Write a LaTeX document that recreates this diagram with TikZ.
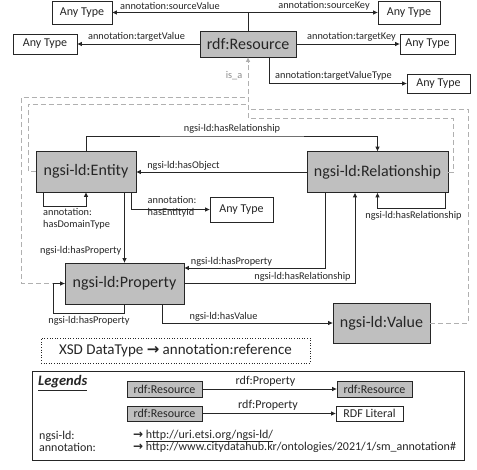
\documentclass[tikz,border=0pt]{standalone}
\usepackage{fontspec}
\setmainfont{Carlito}
\newfontfamily\arrowfont{DejaVu Sans}
\usetikzlibrary{arrows.meta}
\definecolor{ink}{HTML}{262626}
\definecolor{boxgray}{HTML}{BFBFBF}
\definecolor{dashgray}{HTML}{B0B0B0}
\tikzset{
  gbox/.style={draw=ink, line width=0.8pt, fill=boxgray, inner sep=0pt, text=ink},
  wbox/.style={draw=ink, line width=0.8pt, fill=white, inner sep=0pt, text=ink},
  big/.style={font=\fontsize{16}{18}\selectfont},
  mid/.style={font=\fontsize{12}{14}\selectfont},
  lbl/.style={inner sep=0pt, text=ink, font=\fontsize{10.3}{12.5}\selectfont},
  arr/.style={draw=ink, line width=0.9pt, -{Triangle[length=4.5pt,width=4pt]}},
  isa/.style={draw=dashgray, line width=0.9pt, dash pattern=on 5pt off 3pt},
}
\begin{document}
\begin{tikzpicture}[x=1pt,y=-1pt]
\useasboundingbox (0,0) rectangle (477,469);
\fill[white] (0,0) rectangle (477,469);

% ---------- main nodes ----------
\node[gbox, big, minimum width=141pt, minimum height=41pt] (rel) at (377.5,172) {ngsi-ld:Relationship};
\node[gbox, big, minimum width=100pt, minimum height=41pt] (ent) at (86,171.5) {ngsi-ld:Entity};
\node[gbox, big, minimum width=119pt, minimum height=41pt] (prop) at (124.5,283.5) {ngsi-ld:Property};
\node[gbox, big, minimum width=97pt, minimum height=40pt] (val) at (381.5,323) {ngsi-ld:Value};
\node[gbox, big, minimum width=96pt, minimum height=26pt] (res) at (248,44) {rdf:Resource};

% ---------- is_a dashed routes ----------
\coordinate (pL) at (21,283.5);
\coordinate (pT) at (21,97.7);
\coordinate (pM) at (248,97.7);
\coordinate (eL) at (28,171.5);
\coordinate (eT) at (28,104);
\coordinate (eM) at (248,104);
\coordinate (vR) at (468,323);
\coordinate (vT) at (468,109);
\coordinate (vM) at (248,109);
\coordinate (rR) at (453,172);
\coordinate (rT) at (453,118);
\coordinate (rM) at (248,118);
\draw[isa] (prop.west) -- (pL) -- (pT) -- (pM);
\draw[isa] (ent.west) -- (eL) -- (eT) -- (eM);
\draw[isa] (val.east) -- (vR) -- (vT) -- (vM);
\draw[isa] (rel.east) -- (rR) -- (rT) -- (rM);
\draw[isa, -{Triangle[length=4.5pt,width=4pt]}] (rM) -- (res.south);
\node[lbl, text=dashgray!80!black] (isalbl) at (234,76) {is\_a};

% ---------- Any Type boxes ----------
\node[wbox, mid, minimum width=60pt, minimum height=23pt] (at1) at (82,12.5) {Any Type};
\node[wbox, mid, minimum width=62pt, minimum height=23pt] (at2) at (409,12.5) {Any Type};
\node[wbox, mid, minimum width=64pt, minimum height=20pt] (at3) at (45,44) {Any Type};
\node[wbox, mid, minimum width=55pt, minimum height=20pt] (at4) at (427.5,44) {Any Type};
\node[wbox, mid, minimum width=63pt, minimum height=19pt] (at5) at (438.5,83.5) {Any Type};
\node[wbox, mid, minimum width=63pt, minimum height=25pt] (anyE) at (241.5,209.5) {Any Type};

% ---------- rdf:Resource connectors ----------
\draw[arr] (res.north) |- (at1.east);
\draw[arr] (res.north) |- (at2.west);
\draw[arr] (res.west) -- (at3.east);
\draw[arr] (res.east) -- (at4.west);
\draw[arr] ([xshift=21pt]res.south) |- (at5.west);
\node[lbl] at (170,6) {annotation:sourceValue};
\node[lbl] at (324,6) {annotation:sourceKey};
\node[lbl] at (136.5,37) {annotation:targetValue};
\node[lbl] at (351.5,37) {annotation:targetKey};
\node[lbl] at (333.5,76) {annotation:targetValueType};

% ---------- Entity / Relationship ----------
\coordinate (topmid) at (232,136);
\draw[arr] (ent.north) |- (topmid) -| (rel.north);
\node[lbl] at (232,129) {ngsi-ld:hasRelationship};

\draw[arr] (rel.west) -- (rel.west -| ent.east);
\node[lbl] at (183.5,166) {ngsi-ld:hasObject};

\draw[arr] ([xshift=-43pt]ent.south) -- ++(0,14.5) -| (ent.south);
\node[lbl, align=left, anchor=north west] at (43,208) {annotation:\\hasDomainType};

\draw[arr] ([xshift=45pt]ent.south) |- (anyE.west);
\node[lbl, align=left, anchor=north west] at (147.5,196) {annotation:\\hasEntityId};

\draw[arr] (prop.north |- ent.south) -- (prop.north);
\node[lbl, anchor=east] at (121.5,251) {ngsi-ld:hasProperty};

\draw[arr] ([xshift=67.5pt]rel.south) -- ++(0,15.5) -| (rel.south);
\node[lbl] at (413.5,216) {ngsi-ld:hasRelationship};

\draw[arr] ([xshift=-52.5pt]rel.south) |- ([yshift=15.5pt]prop.east);
\node[lbl] at (231.5,262) {ngsi-ld:hasProperty};

\draw[arr] (prop.east) -| ([xshift=-22.5pt]rel.south);
\node[lbl] at (302.5,277) {ngsi-ld:hasRelationship};

\coordinate (ploop) at (53,313);
\draw[arr] (prop.south) |- (ploop) |- (prop.west);
\node[lbl] at (89,321) {ngsi-ld:hasProperty};

\draw[arr] ([xshift=37.5pt]prop.south) |- (val.west);
\node[lbl] at (223.5,317) {ngsi-ld:hasValue};

% ---------- XSD note ----------
\node[draw=ink, line width=0.6pt, dotted, inner sep=0pt, minimum width=269pt, minimum height=25pt,
      text=ink, font=\fontsize{15}{17}\selectfont] (xsd) at (175.5,350.5)
      {XSD DataType {\arrowfont\bfseries →} annotation:reference};

% ---------- Legend ----------
\node[draw=ink, line width=0.9pt, inner sep=0pt, minimum width=432pt, minimum height=89pt] (leg) at (248,415.5) {};
\node[inner sep=0pt, text=ink, font=\fontsize{14.5}{16}\selectfont\bfseries\itshape, anchor=west] (legt) at (38,383) {\underline{Legends}};
\node[gbox, mid, minimum width=75pt, minimum height=16pt] (lr1) at (164.5,389) {rdf:Resource};
\node[gbox, mid, minimum width=75pt, minimum height=16pt] (lr2) at (374.5,389) {rdf:Resource};
\node[gbox, mid, minimum width=75pt, minimum height=15pt] (lr3) at (164.5,413.5) {rdf:Resource};
\node[wbox, mid, minimum width=67pt, minimum height=15pt] (lit) at (369.5,413.5) {RDF Literal};
\draw[arr] (lr1.east) -- (lr2.west);
\draw[arr] (lr3.east) -- (lit.west);
\node[inner sep=0pt, text=ink, mid] at (265.5,381) {rdf:Property};
\node[inner sep=0pt, text=ink, mid] at (268,405.5) {rdf:Property};
\node[inner sep=0pt, text=ink, mid, anchor=west] at (39,436) {ngsi-ld:};
\node[inner sep=0pt, text=ink, mid, anchor=west] at (39,447.5) {annotation:};
\node[inner sep=0pt, text=ink, mid, anchor=west] at (133,436) {{\arrowfont\bfseries →} \underline{http://uri.etsi.org/ngsi-ld/}};
\node[inner sep=0pt, text=ink, mid, anchor=west] at (133,447.5) {{\arrowfont\bfseries →} http://www.citydatahub.kr/ontologies/2021/1/sm\_annotation\#};
\end{tikzpicture}
\end{document}
